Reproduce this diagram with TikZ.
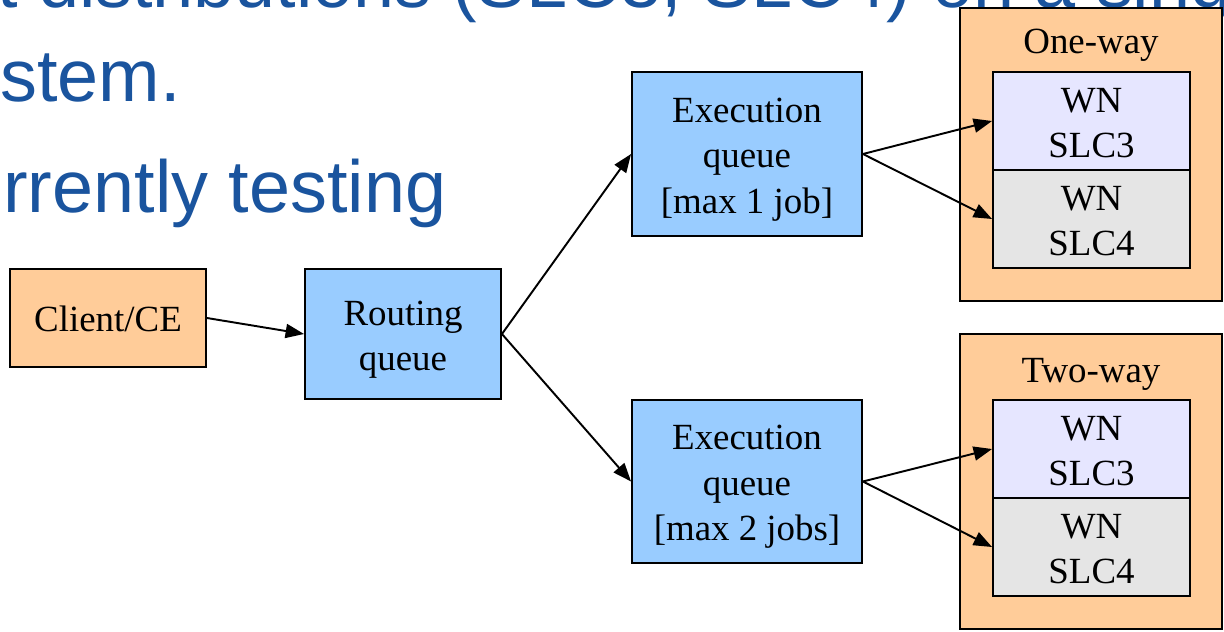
\documentclass[tikz,border=0pt]{standalone}
\usepackage{fontspec}
\setmainfont{Liberation Serif}
\newfontfamily\arialfont{Liberation Sans}
\usetikzlibrary{arrows.meta}
\definecolor{slideblue}{RGB}{26,84,158}
\definecolor{peach}{HTML}{FFCC99}
\definecolor{qblue}{HTML}{99CCFF}
\definecolor{lav}{HTML}{E6E6FF}
\definecolor{lgray}{HTML}{E5E5E5}
% struts inside the node text: fixed height of first line, fixed depth of last line
\newcommand\gvt{\rule{0pt}{20.6pt}}
\newcommand\gvb{\rule[-5pt]{0pt}{5pt}}
\begin{document}
\begin{tikzpicture}[x=0.02cm,y=-0.02cm,
  gv/.style={draw=black, line width=1.1pt, rectangle, inner sep=0pt, align=center,
    font=\fontsize{21}{25.8}\selectfont},
  lbl/.style={inner sep=0pt, anchor=base, font=\fontsize{21}{25.8}\selectfont},
  slide/.style={inner sep=0pt, anchor=base west, text=slideblue, font=\arialfont\fontsize{42}{50}\selectfont},
  conn/.style={draw, line width=1.1pt, -{Triangle[length=10.5pt,width=8pt]}}]
\useasboundingbox (0,0) rectangle (1224,632);
\clip (0,0) rectangle (1224,632);
% slide text in the background
\node[slide] (l1) at (452,8) {\llap{t distributions }(SLC3, SLC4) on a sing};
\node[slide] (l2) at (0,101.5) {stem.};
\node[slide] (l3) at (3,212) {rrently testing};
% clusters
\node[gv, fill=peach, minimum width=5.24cm, minimum height=5.86cm] (c1) at (1091,154.5) {};
\node[lbl] (c1l) at (1091,53) {One-way};
\node[gv, fill=peach, minimum width=5.24cm, minimum height=5.9cm] (c2) at (1091,481.5) {};
\node[lbl] (c2l) at (1091,382) {Two-way};
% worker nodes
\node[gv, fill=lav, minimum width=3.94cm, minimum height=1.96cm] (w1a) at (1091.5,121) {\gvt WN\\SLC3\gvb};
\node[gv, fill=lgray, minimum width=3.94cm, minimum height=1.96cm] (w1b) at (1091.5,219) {\gvt WN\\SLC4\gvb};
\node[gv, fill=lav, minimum width=3.94cm, minimum height=1.96cm] (w2a) at (1091.5,449) {\gvt WN\\SLC3\gvb};
\node[gv, fill=lgray, minimum width=3.94cm, minimum height=1.96cm] (w2b) at (1091.5,547) {\gvt WN\\SLC4\gvb};
% main nodes
\node[gv, fill=peach, minimum width=3.92cm, minimum height=1.96cm] (client) at (108,318) {\gvt Client/CE\gvb};
\node[gv, fill=qblue, minimum width=3.92cm, minimum height=2.6cm] (route) at (403,334) {\gvt Routing\\queue\gvb};
\node[gv, fill=qblue, minimum width=4.6cm, minimum height=3.28cm] (ex1) at (747,154) {\gvt Execution\\queue\\{[max 1 job]}\gvb};
\node[gv, fill=qblue, minimum width=4.6cm, minimum height=3.26cm] (ex2) at (747,481.5) {\gvt Execution\\queue\\{[max 2 jobs]}\gvb};
% connectors
\draw[conn] (client.east) -- (route.west);
\draw[conn] (route.east) -- (ex1.west);
\draw[conn] (route.east) -- (ex2.west);
\draw[conn] (ex1.east) -- (w1a.west);
\draw[conn] (ex1.east) -- (w1b.west);
\draw[conn] (ex2.east) -- (w2a.west);
\draw[conn] (ex2.east) -- (w2b.west);
\end{tikzpicture}
\end{document}
